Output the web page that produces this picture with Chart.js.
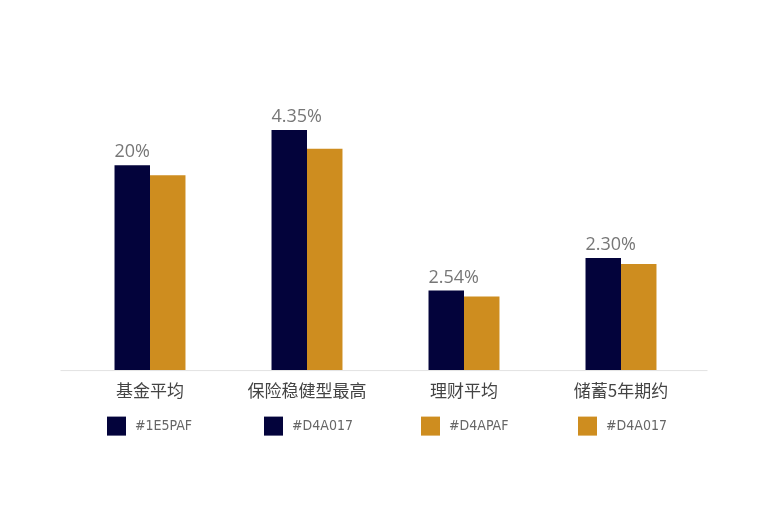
<!DOCTYPE html>
<html>
<head>
<meta charset="utf-8">
<script src="https://cdn.jsdelivr.net/npm/chart.js@4.4.1/dist/chart.umd.min.js"></script>
<style>
  html, body { margin: 0; padding: 0; background: #fff; }
  #wrap { width: 768px; height: 512px; position: relative; }
</style>
</head>
<body>
<div id="wrap"><canvas id="barChart"></canvas></div>
<script>
// data
const categories = ['基金平均', '保险稳健型最高', '理财平均', '储蓄5年期约'];
const navyValues = [4.09, 4.79, 1.59, 2.24];
const goldValues = [3.89, 4.42, 1.47, 2.12];
const valueLabels = ['20%', '4.35%', '2.54%', '2.30%'];
const legendLabels = ['#1E5PAF', '#D4A017', '#D4APAF', '#D4A017'];
const legendColors = ['#03033B', '#03033B', '#CE8D1F', '#CE8D1F'];

const NAVY = '#03033B';
const GOLD = '#CE8D1F';

// labels above the first bar of each group
const topLabels = {
    id: 'topLabels',
    afterDatasetsDraw(c) {
        const ctx = c.ctx;
        const meta = c.getDatasetMeta(0);
        ctx.save();
        ctx.font = '18px "Open Sans", "Noto Sans", sans-serif';
        ctx.fillStyle = '#777';
        ctx.textAlign = 'left';
        ctx.textBaseline = 'bottom';
        meta.data.forEach((bar, i) => {
            ctx.fillText(valueLabels[i], bar.x - bar.width / 2, bar.y - 4);
        });
        ctx.restore();
    }
};

// baseline a bit wider than the plot area
const baseLine = {
    id: 'baseLine',
    beforeDatasetsDraw(c) {
        const { ctx, chartArea } = c;
        ctx.save();
        ctx.strokeStyle = '#e2e2e2';
        ctx.lineWidth = 1;
        ctx.beginPath();
        ctx.moveTo(chartArea.left - 11, chartArea.bottom + 0.5);
        ctx.lineTo(chartArea.right + 8, chartArea.bottom + 0.5);
        ctx.stroke();
        ctx.restore();
    }
};

// legend items, one under each category
const rowLegend = {
    id: 'rowLegend',
    afterDraw(c) {
        const ctx = c.ctx;
        const x = c.scales.x;
        const y = c.chartArea.bottom + 55.5;
        ctx.save();
        ctx.font = '14px "DejaVu Sans Condensed", "Liberation Sans Narrow", "Roboto", sans-serif';
        ctx.textBaseline = 'middle';
        ctx.textAlign = 'left';
        legendLabels.forEach((txt, i) => {
            const cx = x.getPixelForValue(i);
            ctx.fillStyle = legendColors[i];
            ctx.fillRect(cx - 43, y - 9, 19, 19);
            ctx.fillStyle = '#666';
            ctx.fillText(txt, cx - 15, y + 1);
        });
        ctx.restore();
    }
};

const chart = new Chart(document.getElementById('barChart'), {
    type: 'bar',
    data: {
        labels: categories,
        datasets: [{
            label: 'navy',
            data: navyValues,
            backgroundColor: NAVY,
            categoryPercentage: 0.452,
            barPercentage: 1
        }, {
            label: 'gold',
            data: goldValues,
            backgroundColor: GOLD,
            categoryPercentage: 0.452,
            barPercentage: 1
        }]
    },
    options: {
        responsive: true,
        maintainAspectRatio: false,
        animation: false,
        layout: { padding: { top: 69.5, left: 71.5, right: 68.5, bottom: 108.5 } },
        plugins: {
            legend: { display: false },
            tooltip: { enabled: false }
        },
        scales: {
            x: {
                grid: { display: false },
                border: { display: false },
                ticks: {
                    color: '#444',
                    padding: 2.5,
                    font: { size: 17, family: '"Noto Sans CJK SC", "Noto Sans", sans-serif' }
                }
            },
            y: {
                display: false,
                min: 0,
                max: 6
            }
        }
    },
    plugins: [baseLine, topLabels, rowLegend]
});
</script>
</body>
</html>
